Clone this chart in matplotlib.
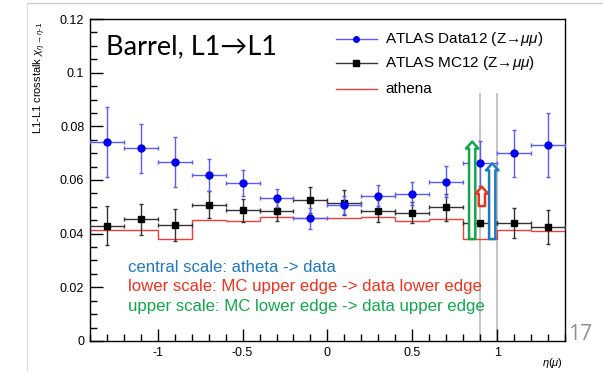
import numpy as np
import matplotlib.pyplot as plt
from matplotlib.lines import Line2D
from matplotlib.ticker import MultipleLocator, FixedLocator

# bins in eta(mu)
eta_edges = [-1.4, -1.2, -1.0, -0.8, -0.6, -0.4, -0.2, 0.0, 0.2, 0.4, 0.6, 0.8, 1.0, 1.2, 1.4]
eta_centers = [-1.3, -1.1, -0.9, -0.7, -0.5, -0.3, -0.1, 0.1, 0.3, 0.5, 0.7, 0.9, 1.1, 1.3]

data12 = [0.0741, 0.0718, 0.0666, 0.0619, 0.0589, 0.0532, 0.0457, 0.0507, 0.0542, 0.0549, 0.0594, 0.0662, 0.0700, 0.0730]
data12_err = [0.0130, 0.0092, 0.0093, 0.0060, 0.0047, 0.0034, 0.0038, 0.0032, 0.0040, 0.0042, 0.0057, 0.0085, 0.0088, 0.0120]

mc12 = [0.0430, 0.0454, 0.0432, 0.0508, 0.0487, 0.0483, 0.0526, 0.0516, 0.0485, 0.0478, 0.0498, 0.0439, 0.0440, 0.0425]
mc12_err = [0.0073, 0.0058, 0.0060, 0.0050, 0.0042, 0.0035, 0.0048, 0.0046, 0.0040, 0.0040, 0.0050, 0.0010, 0.0057, 0.0063]

athena = [0.0412, 0.0413, 0.0380, 0.0451, 0.0446, 0.0462, 0.0460, 0.0460, 0.0462, 0.0448, 0.0454, 0.0380, 0.0414, 0.0411]

# scale arrows in the 0.8-1.0 bin: (x, from, to, colour)
arrow_x = [0.853, 0.910, 0.971]
arrow_from = [0.0380, 0.0503, 0.0380]
arrow_to = [0.0743, 0.0575, 0.0662]
arrow_col = ["#10a84a", "#f0321e", "#1f78c0"]

gray_lines = [0.9, 1.0]
gray_top = 0.092

notes = ["central scale: atheta -> data",
         "lower scale: MC upper edge -> data lower edge",
         "upper scale: MC lower edge -> data upper edge"]
note_col = ["#1f78c0", "#f0321e", "#10a84a"]

root_font = ["Liberation Sans", "DejaVu Sans"]
plt.rcParams["font.family"] = root_font
plt.rcParams["mathtext.fontset"] = "custom"
plt.rcParams["mathtext.it"] = "Liberation Sans:italic"
plt.rcParams["mathtext.rm"] = "Liberation Sans"

fig = plt.figure(figsize=(6.03, 3.75), dpi=100)
ax = fig.add_axes([0.149, 0.0907, 0.788, 0.8586])

# slide frame remnants
fig.add_artist(Line2D([27 / 603, 1.0], [1 - 2.5 / 375] * 2, color="#cccccc", lw=1))
fig.add_artist(Line2D([27 / 603] * 2, [1 - 2.5 / 375, 0.01], color="#dddddd", lw=0.8))

half = 0.1
# athena step
edges = np.array(eta_edges)
vals = np.array(athena)
ax.stairs(vals, edges, color="#f03c3c", lw=1.0, baseline=None, zorder=2)

for x in gray_lines:
    ax.plot([x, x], [0, gray_top], color="#bbbbbb", lw=1.2, zorder=1)

ax.errorbar(eta_centers, mc12, xerr=half, yerr=mc12_err, fmt="s", ms=5,
            color="black", ecolor="#333333", elinewidth=1.0, capsize=1.5, zorder=4)
ax.errorbar(eta_centers, data12, xerr=half, yerr=data12_err, fmt="o", ms=5,
            color="#0000ee", ecolor="#5a5aff", elinewidth=1.0, capsize=1.5, zorder=5)

for x, y0, y1, c in zip(arrow_x, arrow_from, arrow_to, arrow_col):
    ax.annotate("", xy=(x, y1), xytext=(x, y0),
                arrowprops=dict(arrowstyle="simple,head_width=0.9,head_length=0.5,tail_width=0.45",
                                fc="white", ec=c, lw=1.8, shrinkA=0, shrinkB=0),
                zorder=6)

ax.set_xlim(-1.4, 1.4)
ax.set_ylim(0, 0.12)
ax.yaxis.set_major_locator(FixedLocator([0, 0.02, 0.04, 0.06, 0.08, 0.1, 0.12]))
ax.yaxis.set_minor_locator(MultipleLocator(0.005))
ax.xaxis.set_major_locator(FixedLocator([-1, -0.5, 0, 0.5, 1]))
ax.xaxis.set_minor_locator(MultipleLocator(0.1))
ax.set_yticklabels(["0", "0.02", "0.04", "0.06", "0.08", "0.1", "0.12"])
ax.set_xticklabels(["-1", "-0.5", "0", "0.5", "1"])
ax.tick_params(which="both", direction="in", top=False, right=False, labelsize=9)
ax.tick_params(which="major", length=9, width=1, pad=4)
ax.tick_params(which="minor", length=5, width=1)
for s in ax.spines.values():
    s.set_linewidth(1.0)

fig.text(40 / 603, 1 - 22 / 375, r"L1-L1 crosstalk $\chi_{\eta\rightarrow\eta\text{-}1}$",
         rotation=90, ha="center", va="top", fontsize=8)
fig.text(553 / 603, 1 - 363 / 375, r"$\eta(\mu)$", ha="center", va="center", fontsize=8)

ax.text(-1.305, 0.1095, "Barrel, L1\u2192L1", fontsize=19.5, family=["Lato", "DejaVu Sans"],
        ha="left", va="center")

# legend
leg_y = [0.1125, 0.1035, 0.0940]
ax.plot([0.05, 0.29], [leg_y[0]] * 2, color="#5a5aff", lw=1)
ax.plot([0.17], [leg_y[0]], "o", color="#0000ee", ms=4)
ax.plot([0.05, 0.29], [leg_y[1]] * 2, color="#333333", lw=1)
ax.plot([0.17], [leg_y[1]], "s", color="black", ms=4)
ax.plot([0.05, 0.29], [leg_y[2]] * 2, color="#f03c3c", lw=1)
leg_txt = ["ATLAS Data12 (Z\u2192$\\mu\\mu$)", "ATLAS MC12 (Z\u2192$\\mu\\mu$)", "athena"]
for y, t in zip(leg_y, leg_txt):
    ax.text(0.34, y, t, fontsize=11, ha="left", va="center")

for i, (t, c) in enumerate(zip(notes, note_col)):
    fig.text(128 / 603, 1 - (267 + 20 * i) / 375, t, color=c, fontsize=12.1,
             family=root_font, ha="left", va="center")

fig.text(580 / 603, 1 - 335 / 375, "17", color="#909090", fontsize=15,
         family=["Open Sans", "DejaVu Sans"], ha="center", va="center")

fig.savefig("out.png", dpi=100)
